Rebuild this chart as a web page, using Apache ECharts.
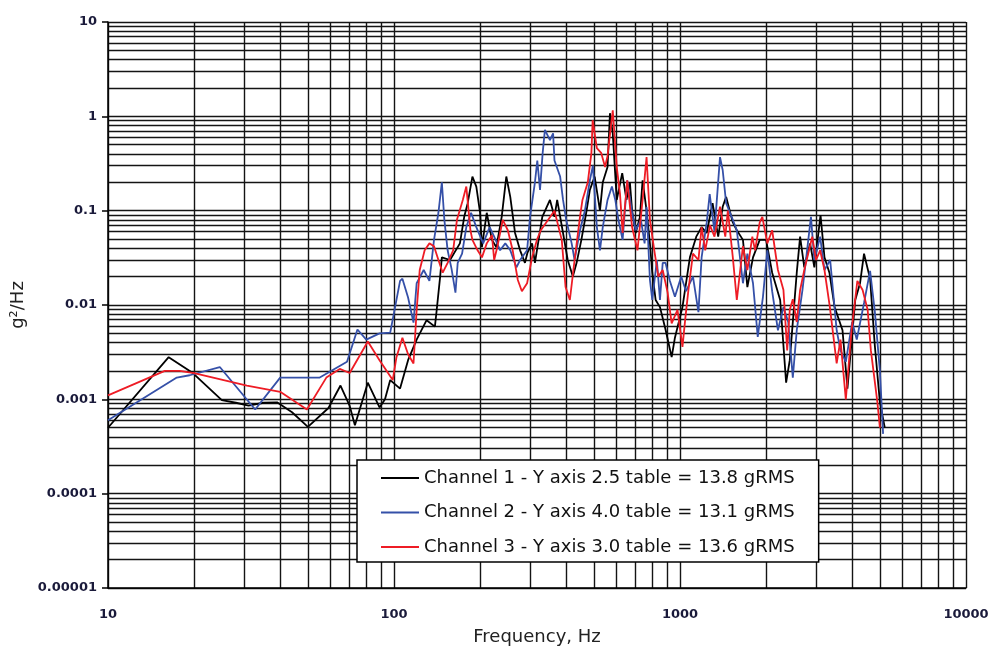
<!DOCTYPE html>
<html>
<head>
<meta charset="utf-8">
<script src="https://cdn.jsdelivr.net/npm/echarts@6/dist/echarts.min.js"></script>
<style>
html,body{margin:0;padding:0;background:#fff;}
#c{width:999px;height:656px;}
</style>
</head>
<body>
<div id="c"></div>
<script>
// ---- data (frequency Hz, PSD g^2/Hz) ----
const seriesNames = [
  'Channel 1 - Y axis 2.5 table = 13.8 gRMS',
  'Channel 2 - Y axis 4.0 table = 13.1 gRMS',
  'Channel 3 - Y axis 3.0 table = 13.6 gRMS'
];
const ch1 = [
  [10,0.00050],[16.3,0.0028],[19.8,0.0019],[25,0.00098],[28,0.00092],[31,0.00086],[35,0.00092],[39,0.00093],
  [44,0.00073],[50,0.00051],[59,0.00081],[65,0.0014],[70,0.00085],[73,0.00053],[81,0.0015],[89,0.00082],
  [93,0.0010],[97,0.0016],[105,0.0013],[112,0.0026],[120,0.0043],[130,0.0069],[139,0.0059],[141,0.0088],
  [145,0.020],[147,0.032],[157,0.030],[170,0.045],[176,0.086],[181,0.12],[188,0.23],[194,0.18],[200,0.095],
  [203,0.041],[211,0.095],[220,0.049],[228,0.041],[238,0.086],[247,0.23],[255,0.14],[265,0.058],[276,0.038],
  [287,0.028],[293,0.036],[304,0.045],[311,0.028],[330,0.086],[351,0.13],[364,0.086],[372,0.13],[390,0.058],
  [405,0.030],[422,0.020],[435,0.028],[452,0.049],[470,0.095],[484,0.166],[503,0.23],[525,0.10],[537,0.20],
  [558,0.29],[569,1.08],[582,0.66],[601,0.13],[628,0.25],[650,0.13],[668,0.20],[680,0.10],[700,0.058],
  [724,0.085],[740,0.21],[764,0.10],[785,0.045],[800,0.022],[822,0.0113],[851,0.0095],[890,0.0055],
  [935,0.0028],[960,0.0045],[1020,0.0095],[1083,0.032],[1140,0.053],[1190,0.067],[1240,0.058],[1300,0.12],
  [1360,0.053],[1410,0.11],[1450,0.14],[1530,0.075],[1580,0.062],[1660,0.049],[1720,0.0155],[1800,0.032],
  [1900,0.049],[2000,0.049],[2100,0.022],[2240,0.0113],[2350,0.0015],[2420,0.0026],[2560,0.022],[2630,0.053],
  [2720,0.025],[2850,0.045],[2950,0.025],[3100,0.09],[3200,0.032],[3330,0.022],[3470,0.0096],[3700,0.0054],
  [3850,0.0013],[4100,0.0113],[4260,0.017],[4400,0.035],[4620,0.019],[4800,0.0037],[5000,0.00093],[5200,0.0005]
];
const ch2 = [
  [10,0.00060],[17.4,0.0017],[19.3,0.0018],[24.6,0.0022],[32.7,0.00078],[40,0.0017],[55,0.0017],[68.5,0.0025],
  [74.5,0.0055],[80,0.0043],[89,0.0050],[97,0.0051],[105,0.018],[107,0.019],[112,0.012],[117,0.0065],[120,0.017],
  [127,0.0235],[133,0.018],[138,0.049],[143,0.095],[147,0.20],[150,0.08],[154,0.038],[159,0.024],[164,0.0135],
  [167,0.028],[173,0.035],[179,0.067],[186,0.095],[194,0.067],[205,0.045],[216,0.067],[224,0.053],[235,0.038],
  [245,0.045],[255,0.038],[268,0.025],[276,0.030],[292,0.038],[299,0.086],[311,0.20],[317,0.34],[324,0.166],
  [331,0.41],[337,0.72],[351,0.56],[360,0.66],[364,0.34],[381,0.23],[390,0.13],[400,0.08],[418,0.045],[428,0.030],
  [447,0.062],[465,0.10],[484,0.21],[496,0.30],[512,0.067],[525,0.038],[537,0.067],[558,0.13],[578,0.18],
  [594,0.13],[609,0.08],[630,0.049],[654,0.21],[678,0.10],[700,0.062],[730,0.08],[752,0.045],[764,0.11],
  [785,0.0184],[800,0.0113],[830,0.030],[851,0.0113],[870,0.028],[890,0.028],[922,0.018],[960,0.0122],
  [1010,0.020],[1050,0.014],[1110,0.020],[1160,0.0084],[1190,0.032],[1240,0.075],[1270,0.15],[1320,0.06],
  [1380,0.37],[1410,0.27],[1450,0.12],[1530,0.08],[1580,0.062],[1660,0.017],[1720,0.035],[1800,0.017],
  [1870,0.0046],[1950,0.0122],[2020,0.038],[2100,0.014],[2200,0.0054],[2300,0.0095],[2390,0.0066],[2480,0.0017],
  [2560,0.0054],[2680,0.0144],[2870,0.086],[2950,0.030],[3090,0.053],[3200,0.0235],[3350,0.030],[3530,0.0054],
  [3640,0.0033],[3800,0.0025],[4000,0.0066],[4150,0.0043],[4400,0.0105],[4620,0.023],[4800,0.0085],[5000,0.002],
  [5130,0.00043]
];
const ch3 = [
  [10,0.0011],[15.8,0.0020],[17.8,0.0020],[20,0.0019],[30.6,0.0014],[40,0.0012],[49.6,0.00078],[58,0.0017],
  [64.6,0.0021],[70,0.0019],[81,0.0041],[89,0.0026],[99,0.0016],[102,0.0028],[107,0.0045],[112,0.0030],
  [117,0.0024],[120,0.0088],[123,0.0235],[128,0.038],[133,0.045],[138,0.042],[143,0.030],[148,0.022],[154,0.028],
  [161,0.038],[166,0.08],[174,0.13],[179,0.18],[185,0.062],[188,0.049],[196,0.038],[203,0.032],[211,0.045],
  [220,0.055],[224,0.030],[230,0.042],[240,0.08],[250,0.062],[260,0.038],[271,0.0184],[280,0.014],[292,0.017],
  [304,0.032],[316,0.049],[326,0.062],[346,0.08],[364,0.10],[386,0.049],[398,0.0155],[412,0.0113],[428,0.030],
  [447,0.086],[456,0.13],[476,0.20],[490,0.41],[495,0.91],[512,0.46],[530,0.41],[547,0.29],[558,0.38],[582,1.16],
  [601,0.29],[617,0.15],[630,0.058],[654,0.21],[680,0.067],[710,0.038],[740,0.13],[764,0.37],[785,0.08],
  [813,0.038],[840,0.020],[870,0.0235],[905,0.0136],[935,0.0064],[980,0.0089],[1020,0.0036],[1045,0.0075],
  [1070,0.0144],[1110,0.035],[1160,0.030],[1190,0.067],[1225,0.038],[1273,0.07],[1320,0.053],[1380,0.11],
  [1440,0.053],[1470,0.10],[1530,0.032],[1580,0.0113],[1660,0.042],[1720,0.0235],[1790,0.053],[1830,0.038],
  [1900,0.075],[1940,0.086],[2020,0.045],[2100,0.062],[2200,0.0235],[2300,0.0144],[2370,0.0033],[2420,0.0089],
  [2480,0.0115],[2560,0.0066],[2630,0.0144],[2720,0.0235],[2900,0.053],[2990,0.030],[3090,0.038],[3200,0.0235],
  [3340,0.0096],[3530,0.0024],[3640,0.0043],[3800,0.0010],[3980,0.0054],[4170,0.018],[4350,0.0144],[4530,0.0089],
  [4650,0.0033],[4900,0.00093],[5000,0.0005]
];
const xTickLabels = {1:'10', 2:'100', 3:'1000', 4:'10000'};
const yTickLabels = {'-5':'0.00001','-4':'0.0001','-3':'0.001','-2':'0.01','-1':'0.1','0':'1','1':'10'};
const colors = ['#000000', '#3550a8', '#ee1c25'];

const FONT = 'DejaVu Sans, Liberation Sans, Arial, sans-serif';
const chart = echarts.init(document.getElementById('c'), null, {renderer: 'canvas'});
const gridLine = {show: true, lineStyle: {color: '#141414', width: 1.4}};
chart.setOption({
  animation: false,
  backgroundColor: '#ffffff',
  grid: {left: 108, right: 33, top: 22, bottom: 68, show: false},
  legend: {
    orient: 'vertical', left: 357, top: 460,
    backgroundColor: '#ffffff', borderColor: '#000', borderWidth: 1.5, borderRadius: 0,
    padding: [8, 24, 5, 23], itemGap: 14.5, itemWidth: 38, itemHeight: 14,
    itemStyle: {opacity: 0},
    lineStyle: {width: 2},
    textStyle: {fontFamily: FONT, fontSize: 18, lineHeight: 20, color: '#111'},
    data: seriesNames
  },
  xAxis: {
    type: 'log', logBase: 10, min: 10, max: 10000,
    name: 'Frequency, Hz', nameLocation: 'middle', nameGap: 40,
    nameTextStyle: {fontFamily: FONT, fontSize: 18, color: '#222'},
    axisLine: {show: true, lineStyle: {color: '#000', width: 1.5}},
    axisTick: {show: false},
    axisLabel: {
      margin: 20, fontFamily: FONT, fontSize: 13, fontWeight: 'bold', color: '#1a1a3a',
      formatter: v => xTickLabels[Math.round(Math.log10(v))] || ''
    },
    splitLine: gridLine,
    minorTick: {show: false, splitNumber: 9},
    minorSplitLine: {show: true, lineStyle: {color: '#141414', width: 1.4}}
  },
  yAxis: {
    type: 'log', logBase: 10, min: 0.00001, max: 10,
    name: 'g²/Hz', nameLocation: 'middle', nameGap: 80, nameRotate: 90,
    nameTextStyle: {fontFamily: FONT, fontSize: 18, color: '#222'},
    axisLine: {show: true, lineStyle: {color: '#000', width: 1.5}},
    axisTick: {show: true, length: 6, lineStyle: {color: '#000', width: 1.5}},
    axisLabel: {
      margin: 11, fontFamily: FONT, fontSize: 13, fontWeight: 'bold', color: '#1a1a3a',
      formatter: v => yTickLabels[String(Math.round(Math.log10(v)))] || ''
    },
    splitLine: gridLine,
    minorTick: {show: false, splitNumber: 9},
    minorSplitLine: {show: true, lineStyle: {color: '#141414', width: 1.4}}
  },
  series: [ch1, ch2, ch3].map((d, i) => ({
    name: seriesNames[i], type: 'line', data: d, symbol: 'none',
    color: colors[i],
    lineStyle: {color: colors[i], width: 1.8}
  }))
});
</script>
</body>
</html>
